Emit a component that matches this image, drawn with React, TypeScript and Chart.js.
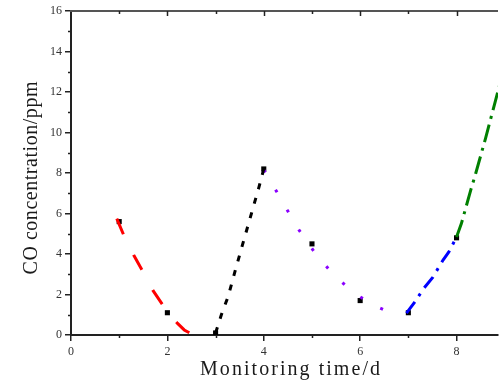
import React, { useEffect, useRef } from 'react';
import { Chart, registerables } from 'chart.js';
Chart.register(...registerables);

// measured CO values (black squares)
const days = [1, 2, 3, 4, 5, 6, 7, 8];
const measured = [5.6, 1.1, 0.1, 8.2, 4.5, 1.7, 1.1, 4.8];

// fitted segments
const redX = [0.95, 1.1, 1.3, 1.5, 1.7, 1.9, 2.0, 2.2, 2.35, 2.5];
const redY = [5.75, 4.9, 3.95, 3.1, 2.2, 1.5, 1.1, 0.6, 0.25, 0.05];

const blackX = [3.0, 3.12, 3.26, 3.41, 3.6, 3.78, 3.9, 4.0];
const blackY = [0.1, 1.0, 1.9, 3.2, 4.8, 6.3, 7.3, 8.2];

const purpleX = [4.0, 4.25, 4.48, 4.74, 5.05, 5.4, 5.81, 6.22, 6.65];
const purpleY = [8.15, 7.15, 6.2, 5.15, 4.1, 3.1, 2.2, 1.53, 1.08];

const blueX = [6.96, 7.12, 7.31, 7.51, 7.72, 7.84, 8.0];
const blueY = [1.08, 1.58, 2.27, 2.86, 3.7, 4.1, 4.84];

const greenX = [8.0, 8.1, 8.2, 8.3, 8.4, 8.5, 8.6, 8.7, 8.8, 8.9];
const greenY = [4.84, 5.5, 6.35, 7.2, 8.0, 8.85, 9.7, 10.6, 11.5, 12.4];

const xTickValues = [0, 2, 4, 6, 8];
const xMinorValues = [1, 3, 5, 7];
const yTickValues = [0, 2, 4, 6, 8, 10, 12, 14, 16];
const yMinorValues = [1, 3, 5, 7, 9, 11, 13, 15];
const topTickValues = [1, 2, 3, 4, 5, 6, 7, 8];

const xTitle = 'Monitoring time/d';
const yTitle = 'CO concentration/ppm';

const pts = (xs: number[], ys: number[]) => xs.map((x, i) => ({ x, y: ys[i] }));

const decoPlugin = {
  id: 'deco',
  afterDraw(chart: any) {
    const { ctx, chartArea, scales } = chart;
    const { left, right, top, bottom } = chartArea;
    ctx.save();
    ctx.strokeStyle = '#222';
    ctx.lineWidth = 1.5;
    // left minor ticks
    yMinorValues.forEach((v) => {
      const y = Math.round(scales.y.getPixelForValue(v)) + 0.5;
      ctx.beginPath();
      ctx.moveTo(left - 3, y);
      ctx.lineTo(left, y);
      ctx.stroke();
    });
    // bottom minor ticks
    xMinorValues.forEach((v) => {
      const x = Math.round(scales.x.getPixelForValue(v)) + 0.5;
      ctx.beginPath();
      ctx.moveTo(x, bottom);
      ctx.lineTo(x, bottom + 3);
      ctx.stroke();
    });
    // top frame line
    ctx.strokeStyle = '#555';
    ctx.lineWidth = 2;
    ctx.beginPath();
    ctx.moveTo(left - 1, top);
    ctx.lineTo(right, top);
    ctx.stroke();
    // top inward ticks
    ctx.strokeStyle = '#222';
    ctx.lineWidth = 1.5;
    topTickValues.forEach((v) => {
      const x = Math.round(scales.x.getPixelForValue(v)) + 0.5;
      const len = v % 2 === 0 ? 5 : 3;
      ctx.beginPath();
      ctx.moveTo(x, top);
      ctx.lineTo(x, top + len);
      ctx.stroke();
    });
    // titles
    ctx.fillStyle = '#1a1a1a';
    ctx.font = '20px "Liberation Serif", serif';
    ctx.textAlign = 'center';
    ctx.textBaseline = 'alphabetic';
    // x title
    {
      const target = 180;
      (ctx as any).letterSpacing = '0px';
      const w = ctx.measureText(xTitle).width;
      const ls = (target - w) / (xTitle.length - 1);
      (ctx as any).letterSpacing = ls + 'px';
      ctx.fillText(xTitle, 290 + ls / 2, 375);
    }
    // y title
    {
      const target = 193;
      (ctx as any).letterSpacing = '0px';
      const w = ctx.measureText(yTitle).width;
      const ls = (target - w) / (yTitle.length - 1);
      (ctx as any).letterSpacing = ls + 'px';
      ctx.save();
      ctx.translate(37, 178);
      ctx.rotate(-Math.PI / 2);
      ctx.fillText(yTitle, ls / 2, 0);
      ctx.restore();
    }
    ctx.restore();
  },
};

export default function App() {
  const ref = useRef<HTMLCanvasElement>(null);
  useEffect(() => {
    if (!ref.current) return;
    const lineDs = (label: string, xs: number[], ys: number[], color: string, dash: number[]) => ({
      label,
      data: pts(xs, ys),
      showLine: true,
      borderColor: color,
      backgroundColor: color,
      borderWidth: 3,
      borderDash: dash,
      borderCapStyle: 'butt' as const,
      pointRadius: 0,
      tension: 0,
      order: 1,
    });
    const chart = new Chart(ref.current, {
      type: 'line',
      data: {
        datasets: [
          lineDs('red', redX, redY, '#ff0000', [17, 23]),
          lineDs('black', blackX, blackY, '#000000', [6, 9]),
          lineDs('purple', purpleX, purpleY, '#8a00ff', [3, 20]),
          lineDs('blue', blueX, blueY, '#0000ff', [14, 7, 3, 7]),
          lineDs('green', greenX, greenY, '#008000', [18, 6, 3, 6]),
          {
            label: 'measured',
            data: pts(days, measured),
            showLine: false,
            pointStyle: 'rect',
            pointRadius: 3.6,
            pointBackgroundColor: '#000',
            pointBorderWidth: 0,
            borderColor: '#000',
            backgroundColor: '#000',
            order: 10,
          } as any,
        ],
      },
      options: {
        responsive: false,
        animation: false,
        layout: { padding: { top: 11, left: 0, right: 0, bottom: 0 } },
        plugins: { legend: { display: false }, tooltip: { enabled: false } },
        scales: {
          x: {
            type: 'linear',
            min: 0,
            max: 8.86,
            afterFit: (s: any) => { s.height = 50; },
            afterBuildTicks: (s: any) => { s.ticks = xTickValues.map((v) => ({ value: v })); },
            grid: { display: true, drawOnChartArea: false, drawTicks: true, tickLength: 6, color: '#222', lineWidth: 1.5 },
            border: { display: true, color: '#222', width: 2 },
            ticks: { padding: 4, color: '#333', font: { family: '"Liberation Serif", serif', size: 12 }, maxRotation: 0 },
          },
          y: {
            type: 'linear',
            min: 0,
            max: 16,
            afterFit: (s: any) => { s.width = 71; },
            afterBuildTicks: (s: any) => { s.ticks = yTickValues.map((v) => ({ value: v })); },
            grid: { display: true, drawOnChartArea: false, drawTicks: true, tickLength: 6, color: '#222', lineWidth: 1.5 },
            border: { display: true, color: '#222', width: 2 },
            ticks: { padding: 3, color: '#333', font: { family: '"Liberation Serif", serif', size: 12 } },
          },
        },
      },
      plugins: [decoPlugin],
    });
    return () => chart.destroy();
  }, []);
  return (
    <div style={{ position: 'fixed', left: 0, top: 0, width: 502, height: 385, background: '#fff' }}>
      <canvas ref={ref} width={502} height={385} style={{ width: 502, height: 385, display: 'block' }} />
    </div>
  );
}
